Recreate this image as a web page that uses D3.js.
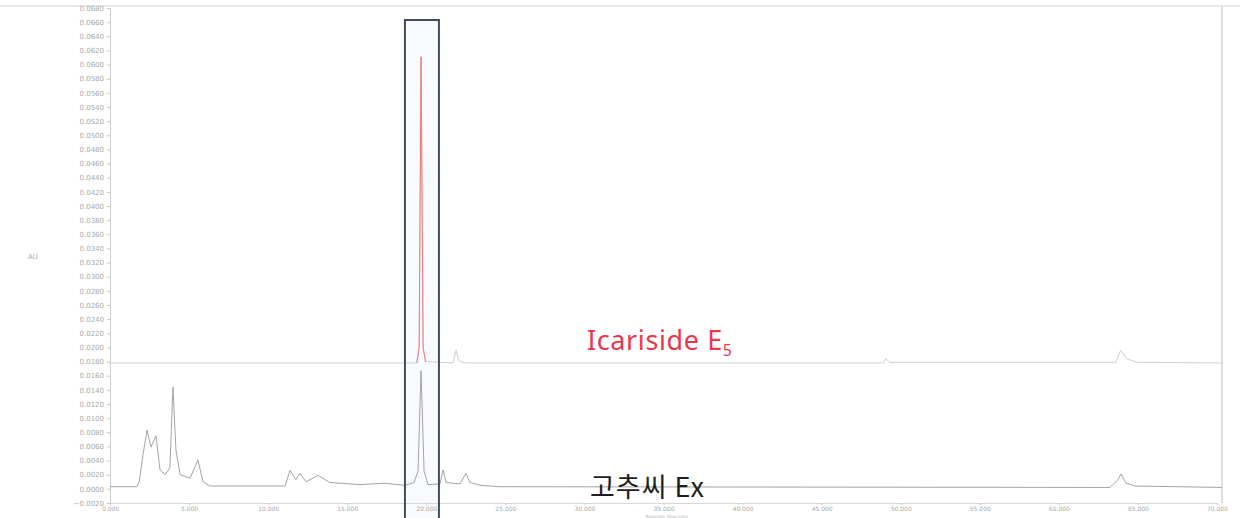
<!DOCTYPE html>
<html>
<head>
<meta charset="utf-8">
<script src="https://cdn.jsdelivr.net/npm/d3@7"></script>
<style>
  body { margin: 0; background: #fff; }
  svg { display: block; }
</style>
</head>
<body>
<div id="chart"></div>
<script>
// retention time (min) / absorbance (AU)
var sampleTime = [0, 1.70, 1.85, 2.10, 2.34, 2.59, 2.91, 3.16, 3.48, 3.79, 3.98, 4.17, 4.43, 5.06, 5.56, 5.88, 6.32,
  9.49, 11.07, 11.38, 11.76, 12.01, 12.39, 13.15, 13.91, 15.81, 17.39, 18.65, 19.22, 19.48, 19.67, 19.86, 20.11,
  20.87, 21.06, 21.25, 22.13, 22.51, 22.76, 23.40, 24.66, 63.23, 63.74, 63.93, 64.25, 64.82, 70.3];
var sampleAU = [0.0003, 0.0003, 0.0010, 0.0050, 0.0083, 0.0059, 0.0075, 0.0027, 0.0020, 0.0030, 0.0144, 0.0055, 0.0020, 0.0015, 0.0041, 0.0010, 0.0004,
  0.0004, 0.0004, 0.0026, 0.0013, 0.0022, 0.0010, 0.0019, 0.0009, 0.0006, 0.0008, 0.0005, 0.0009, 0.0025, 0.0167, 0.0025, 0.0006,
  0.0007, 0.0027, 0.0009, 0.0007, 0.0022, 0.0009, 0.0005, 0.0003, 0.0002, 0.0013, 0.0021, 0.0008, 0.0004, 0.0002];

var stdTime = [0, 19.40, 19.55, 19.67, 19.80, 19.95, 21.70, 21.88, 22.05, 22.5, 48.9, 49.05, 49.3, 63.6, 63.9, 64.3, 64.9, 70.3];
var stdAU = [0.0178, 0.0178, 0.0200, 0.0611, 0.0200, 0.0180, 0.0178, 0.0196, 0.0181, 0.0178, 0.0178, 0.0184, 0.0179, 0.0179, 0.0196, 0.0184, 0.0179, 0.0178];

var xTicks = [0, 5, 10, 15, 20, 25, 30, 35, 40, 45, 50, 55, 60, 65, 70];
var yTicks = [];
for (var k = -2; k <= 68; k += 2) { yTicks.push(k / 1000); }

var stdLabel = "Icariside E";
var stdSub = "5";
var sampleLabel = "고추씨 Ex";
var yTitle = "AU";
var xTitle = "Retention Time (min)";

var W = 1240, H = 518;
var svg = d3.select("#chart").append("svg").attr("width", W).attr("height", H);

var x = d3.scaleLinear().domain([0, 70]).range([110, 1217]);
var y = d3.scaleLinear().domain([-0.002, 0.068]).range([503, 8]);

// frame lines
svg.append("line").attr("x1", 0).attr("x2", W).attr("y1", 6).attr("y2", 6)
  .attr("stroke", "#e2e2e2").attr("stroke-width", 1.5);
svg.append("line").attr("x1", 1222).attr("x2", 1222).attr("y1", 6).attr("y2", 503)
  .attr("stroke", "#d4d4d4").attr("stroke-width", 1.5);

// highlight box background
svg.append("rect").attr("x", x(18.65)).attr("y", 20).attr("width", x(20.80) - x(18.65)).attr("height", 500)
  .attr("fill", "#f8fafd");

var yAxis = svg.append("g").attr("transform", "translate(110,0)")
  .call(d3.axisLeft(y).tickValues(yTicks).tickFormat(d3.format(".4f")).tickSize(3));
yAxis.selectAll("text").attr("fill", "#a8a8a8").style("font-size", "7px").style("font-family", "DejaVu Sans");
yAxis.selectAll("line").attr("stroke", "#c8c8c8");
yAxis.select(".domain").attr("stroke", "#d0d0d0");

var xAxis = svg.append("g").attr("transform", "translate(0,503)")
  .call(d3.axisBottom(x).tickValues(xTicks).tickFormat(d3.format(".3f")).tickSize(2));
xAxis.selectAll("text").attr("fill", "#a8a8a8").style("font-size", "6px").style("font-family", "DejaVu Sans")
  .attr("y", 4).attr("dy", "0.71em");
xAxis.selectAll("line").attr("stroke", "#c8c8c8");
xAxis.select(".domain").attr("stroke", "#d8d8d8");

svg.append("text").attr("x", 667).attr("y", 517.8).attr("text-anchor", "middle")
  .attr("fill", "#b0b0b0").style("font-size", "4px").style("font-family", "DejaVu Sans").text(xTitle);
svg.append("text").attr("x", 33).attr("y", 259).attr("text-anchor", "middle")
  .attr("fill", "#aaa").style("font-size", "7px").style("font-family", "DejaVu Sans").text(yTitle);

var line = d3.line().x(function(d){ return x(d[0]); }).y(function(d){ return y(d[1]); });

var sample = d3.zip(sampleTime, sampleAU);
var std = d3.zip(stdTime, stdAU);

svg.append("path").datum(std).attr("d", line).attr("fill", "none")
  .attr("stroke", "#cfcfcf").attr("stroke-width", 1);
svg.append("path").datum(std.filter(function(d){ return d[0] >= 19.4 && d[0] <= 19.95; }))
  .attr("d", line).attr("fill", "none").attr("stroke", "#f27a7a").attr("stroke-width", 1);

svg.append("path").datum(sample).attr("d", line).attr("fill", "none")
  .attr("stroke", "#a4a4a4").attr("stroke-width", 1);

// box round the icariside peak
svg.append("rect").attr("x", x(18.65)).attr("y", 20).attr("width", x(20.80) - x(18.65)).attr("height", 500)
  .attr("fill", "none").attr("stroke", "#3e4c5d").attr("stroke-width", 2);

var t1 = svg.append("text").attr("x", 587).attr("y", 350)
  .attr("fill", "#e8384f").style("font-size", "27px").style("letter-spacing", "0.6px")
  .style("font-family", "'Noto Sans', sans-serif");
t1.append("tspan").text(stdLabel);
t1.append("tspan").attr("dy", 6).style("font-size", "16px").text(stdSub);

svg.append("text").attr("x", 590).attr("y", 497)
  .attr("fill", "#1e1e1e").style("font-size", "27px").style("letter-spacing", "1px")
  .style("font-family", "'Noto Sans CJK KR', sans-serif")
  .text(sampleLabel);
</script>
</body>
</html>
